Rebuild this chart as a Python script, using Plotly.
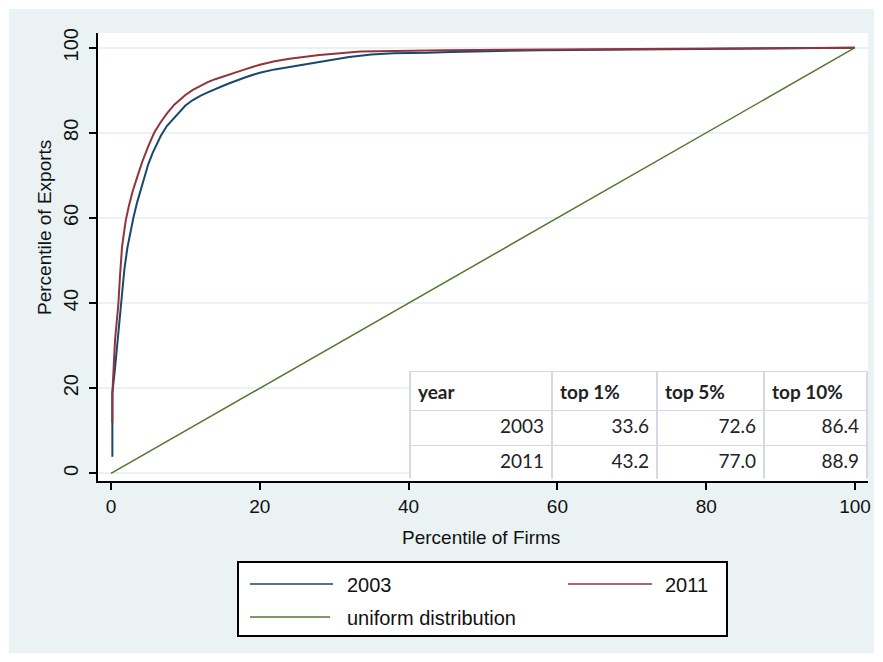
import plotly.graph_objects as go

# ---------------- data ----------------
firms_2003 = [0.18, 0.18, 0.5, 0.9, 1.0, 1.38, 1.8, 2.2, 2.55, 3.0, 3.5, 4.0, 4.57, 5.0, 5.6, 6.2,
              6.7, 7.5, 8.4, 9.0, 10, 11, 12, 13, 14, 15, 16, 17, 18, 19, 20, 22, 24, 26, 28,
              30, 32, 35, 38, 42.6, 45.6, 57.7, 83.9, 93.3, 100]
exports_2003 = [3.9, 18.8, 24.0, 31.3, 33.8, 41.9, 48.0, 53.0, 56.2, 60.0, 63.6, 66.8, 70.4, 72.6, 75.3, 77.5,
                79.3, 81.6, 83.4, 84.6, 86.4, 87.7, 88.7, 89.5, 90.3, 91.0, 91.7, 92.4, 93.0, 93.6,
                94.1, 94.9, 95.5, 96.0, 96.6, 97.2, 97.8, 98.4, 98.7, 98.8, 99.0, 99.4, 99.7, 99.9, 100]

firms_2011 = [0.18, 0.18, 0.54, 0.98, 1.2, 1.48, 1.8, 2.0, 2.4, 2.9, 3.67, 4.2, 5.0, 5.8, 6.6, 7.5,
              8.5, 9.5, 10, 11, 12, 13, 14, 15, 16, 17, 18, 20, 22, 24, 26, 28, 30, 32, 33.5,
              45, 84, 100]
exports_2011 = [11.8, 18.8, 31.3, 39.6, 46.2, 53.2, 57.2, 59.6, 62.8, 66.2, 70.4, 73.2, 76.8, 80.0, 82.3, 84.5,
                86.6, 88.2, 88.9, 90.1, 91.1, 91.9, 92.6, 93.2, 93.8, 94.4, 94.9, 96.0, 96.8, 97.4,
                97.9, 98.3, 98.6, 98.9, 99.1, 99.4, 99.9, 100]

uniform_x = [0, 100]
uniform_y = [0, 100]

table_header = ["year", "top 1%", "top 5%", "top 10%"]
table_years = ["2003", "2011"]
top_1 = ["33.6", "43.2"]
top_5 = ["72.6", "77.0"]
top_10 = ["86.4", "88.9"]

x_ticks = [0, 20, 40, 60, 80, 100]
y_ticks = [0, 20, 40, 60, 80, 100]

series_names = ["2003", "2011", "uniform distribution"]

# ---------------- style ----------------
W, H = 883, 662
ML, MR, MT, MB = 98, 15, 33, 181
PW, PH = W - ML - MR, H - MT - MB

C_BLUE = "#1A476F"
C_RED = "#90353B"
C_GREEN = "#55752F"
C_BG = "#EAF2F3"
FONT = "Liberation Sans, Arial, sans-serif"


def px(x):
    return (x - ML) / PW


def py(y):
    return (H - MB - y) / PH


fig = go.Figure()

fig.add_trace(go.Scatter(x=firms_2003, y=exports_2003, mode="lines", name=series_names[0],
                         line=dict(color=C_BLUE, width=2), showlegend=False))
fig.add_trace(go.Scatter(x=firms_2011, y=exports_2011, mode="lines", name=series_names[1],
                         line=dict(color=C_RED, width=2), showlegend=False))
fig.add_trace(go.Scatter(x=uniform_x, y=uniform_y, mode="lines", name=series_names[2],
                         line=dict(color=C_GREEN, width=1.5), showlegend=False))

tbl_line = "#D3DAE6"
fig.add_trace(go.Table(
    domain=dict(x=[px(410), px(867)], y=[py(479), py(371.5)]),
    columnwidth=[142, 105, 107, 103],
    header=dict(values=["<b>%s</b>" % h for h in table_header], align="left", height=35,
                fill_color="white", line=dict(color=tbl_line, width=1.5),
                font=dict(family="Lato, Carlito, sans-serif", size=19, color="#222222")),
    cells=dict(values=[table_years, top_1, top_5, top_10], align="right", height=35,
               fill_color="white", line=dict(color=tbl_line, width=1.5),
               font=dict(family="Lato, Carlito, sans-serif", size=19, color="#222222")),
))

shapes = []
# white outer frame
shapes.append(dict(type="rect", xref="paper", yref="paper", x0=px(0), x1=px(W), y0=py(H), y1=py(0),
                   line=dict(color="white", width=18), fillcolor="rgba(0,0,0,0)", layer="above"))
# legend box
shapes.append(dict(type="rect", xref="paper", yref="paper", x0=px(238), x1=px(727), y0=py(636), y1=py(562),
                   line=dict(color="black", width=2), fillcolor="white"))
leg = [(250, 333, 584, C_BLUE, 345, series_names[0]),
       (568, 652, 584, C_RED, 663, series_names[1]),
       (250, 330, 617, C_GREEN, 345, series_names[2])]
annotations = []
for x0, x1, yy, col, tx, name in leg:
    shapes.append(dict(type="line", xref="paper", yref="paper", x0=px(x0), x1=px(x1), y0=py(yy), y1=py(yy),
                       line=dict(color=col, width=1.5)))
    annotations.append(dict(text=name, xref="paper", yref="paper", x=px(tx), y=py(yy + 1), xanchor="left",
                            yanchor="middle", showarrow=False, font=dict(family=FONT, size=20, color="#111111")))

annotations.append(dict(text="Percentile of Exports", xref="paper", yref="paper", x=px(45), y=py(228),
                        textangle=-90, xanchor="center", yanchor="middle", showarrow=False,
                        font=dict(family=FONT, size=19, color="#111111")))
annotations.append(dict(text="Percentile of Firms", xref="paper", yref="paper", x=px(481), y=py(537),
                        xanchor="center", yanchor="middle", showarrow=False,
                        font=dict(family=FONT, size=19, color="#111111")))

fig.update_layout(
    width=W, height=H, autosize=False,
    margin=dict(l=ML, r=MR, t=MT, b=MB, pad=0),
    paper_bgcolor=C_BG, plot_bgcolor="white",
    shapes=shapes, annotations=annotations,
    showlegend=False,
    xaxis=dict(range=[-1.75, 101.75], tickvals=x_ticks, ticktext=[str(v) for v in x_ticks],
               showgrid=False, zeroline=False, showline=True, linecolor="black", linewidth=2,
               ticks="outside", ticklen=7, tickwidth=1.5, tickcolor="black",
               tickfont=dict(family=FONT, size=19, color="#111111")),
    yaxis=dict(range=[-1.8, 103.45], tickvals=y_ticks, ticktext=[str(v) for v in y_ticks],
               showgrid=True, gridcolor=C_BG, gridwidth=1.5, zeroline=False,
               showline=True, linecolor="black", linewidth=2,
               ticks="outside", ticklen=7, tickwidth=1.5, tickcolor="black", tickangle=-90,
               ticklabelstandoff=3,
               tickfont=dict(family=FONT, size=20, color="#111111")),
)

fig.write_html("out.html", config={"displayModeBar": False},
               post_script="document.body.style.margin='0';document.body.style.overflow='hidden';")
